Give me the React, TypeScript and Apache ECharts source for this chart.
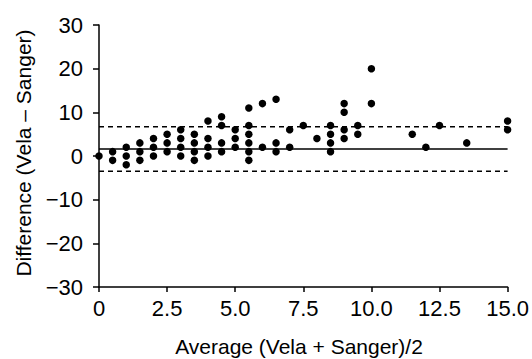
import React, { useEffect, useRef } from "react";
import * as echarts from "echarts";

const avgValues: number[] = [
  0,
  0.5, 0.5,
  1, 1, 1,
  1.5, 1.5, 1.5,
  2, 2, 2,
  2.5, 2.5, 2.5,
  3, 3, 3, 3,
  3.5, 3.5, 3.5, 3.5,
  4, 4, 4, 4,
  4.5, 4.5, 4.5, 4.5,
  5, 5, 5,
  5.5, 5.5, 5.5, 5.5, 5.5, 5.5,
  6, 6,
  6.5, 6.5, 6.5,
  7, 7,
  7.5,
  8,
  8.5, 8.5, 8.5, 8.5,
  9, 9, 9, 9,
  9.5, 9.5,
  10, 10,
  11.5,
  12,
  12.5,
  13.5,
  15, 15,
];
const diffValues: number[] = [
  0,
  1, -1,
  2, 0, -2,
  3, 1, -1,
  4, 2, 0,
  5, 3, 1,
  6, 4, 2, 0,
  5, 3, 1, -1,
  8, 4, 2, 0,
  9, 7, 3, 1,
  6, 4, 2,
  11, 7, 5, 3, 1, -1,
  12, 2,
  13, 3, 1,
  6, 2,
  7,
  4,
  7, 5, 3, 1,
  12, 10, 6, 4,
  7, 5,
  20, 12,
  5,
  2,
  7,
  3,
  8, 6,
];
const meanDiff = 1.6;
const upperLimit = 6.7;
const lowerLimit = -3.5;
const xRange = [0, 15];
const yRange = [-30, 30];

const FONT = "'Liberation Sans', Arial, sans-serif";

export default function App() {
  const ref = useRef<HTMLDivElement>(null);
  useEffect(() => {
    document.body.style.margin = "0";
    if (!ref.current) return;
    const chart = echarts.init(ref.current, undefined, { renderer: "svg" });
    const points = avgValues.map((x, i) => [x, diffValues[i]]);
    const hline = (v: number) => [
      [xRange[0], v],
      [xRange[1], v],
    ];
    chart.setOption({
      animation: false,
      backgroundColor: "#ffffff",
      grid: { left: 99, right: 24, top: 25, bottom: 72 },
      xAxis: {
        type: "value",
        min: xRange[0],
        max: xRange[1],
        interval: 2.5,
        splitLine: { show: false },
        axisLine: { onZero: false, lineStyle: { color: "#000", width: 1.5 } },
        axisTick: { length: 5, lineStyle: { color: "#000", width: 1.5 } },
        axisLabel: {
          color: "#000",
          fontSize: 22,
          fontFamily: FONT,
          margin: 10,
          showMaxLabel: true,
          formatter: (v: number) => (v === 0 ? "0" : v.toFixed(1)),
        },
      },
      yAxis: {
        type: "value",
        min: yRange[0],
        max: yRange[1],
        interval: 10,
        splitLine: { show: false },
        axisLine: { onZero: false, lineStyle: { color: "#000", width: 1.5 } },
        axisTick: { length: 6, lineStyle: { color: "#000", width: 1.5 } },
        axisLabel: {
          color: "#000",
          fontSize: 22,
          fontFamily: FONT,
          margin: 16,
          formatter: (v: number) => (v < 0 ? "\u2212" + Math.abs(v) : String(v)),
        },
      },
      graphic: [
        {
          type: "text",
          x: 299,
          y: 346,
          style: {
            text: "Average (Vela + Sanger)/2",
            fontSize: 21,
            fontFamily: FONT,
            fill: "#000",
            align: "center",
            verticalAlign: "middle",
          },
        },
        {
          type: "text",
          x: 23,
          y: 153,
          rotation: Math.PI / 2,
          style: {
            text: "Difference (Vela \u2013 Sanger)",
            fontSize: 21,
            fontFamily: FONT,
            fill: "#000",
            align: "center",
            verticalAlign: "middle",
          },
        },
      ],
      series: [
        {
          type: "line",
          data: hline(meanDiff),
          symbol: "none",
          lineStyle: { color: "#000", width: 1.5 },
          z: 1,
        },
        {
          type: "line",
          data: hline(upperLimit),
          symbol: "none",
          lineStyle: { color: "#000", width: 1.5, type: [5, 4] },
          z: 1,
        },
        {
          type: "line",
          data: hline(lowerLimit),
          symbol: "none",
          lineStyle: { color: "#000", width: 1.5, type: [5, 4] },
          z: 1,
        },
        {
          type: "scatter",
          data: points,
          symbol: "circle",
          symbolSize: 7.5,
          clip: false,
          itemStyle: { color: "#000", opacity: 1 },
          z: 3,
        },
      ],
    });
    return () => chart.dispose();
  }, []);
  return <div ref={ref} style={{ width: 532, height: 359 }} />;
}
